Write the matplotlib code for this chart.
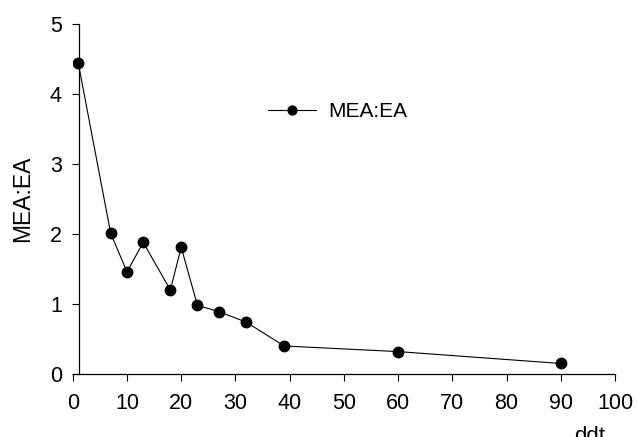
import matplotlib
matplotlib.use("Agg")
import matplotlib.pyplot as plt

ddt = [1, 7, 10, 13, 18, 20, 23, 27, 32, 39, 60, 90]
mea_ea = [4.45, 2.01, 1.46, 1.88, 1.20, 1.81, 0.98, 0.89, 0.74, 0.40, 0.32, 0.15]
x_ticks = [0, 10, 20, 30, 40, 50, 60, 70, 80, 90, 100]
y_ticks = [0, 1, 2, 3, 4, 5]

plt.rcParams['font.family'] = ['Liberation Sans', 'DejaVu Sans']

fig = plt.figure(figsize=(6.38, 4.37), dpi=100)
ax = fig.add_axes([0.114, 0.1442, 0.85, 0.8008])

ax.plot(ddt, mea_ea, color='black', linewidth=0.8, marker='o', markersize=7.5,
        markerfacecolor='black', markeredgecolor='black', label='MEA:EA')

ax.set_xlim(0, 100)
ax.set_ylim(0, 5)
ax.set_xticks(x_ticks)
ax.set_yticks(y_ticks)

for s in ['top', 'right']:
    ax.spines[s].set_visible(False)
ax.spines['left'].set_position(('data', 1.2))
ax.spines['left'].set_linewidth(0.9)
ax.spines['bottom'].set_linewidth(0.9)

ax.tick_params(axis='x', direction='out', length=5, width=0.8, pad=9, labelsize=15.5)
ax.tick_params(axis='y', direction='out', length=5, width=0.8, pad=7.5, labelsize=15.5)

ax.set_ylabel('MEA:EA', fontsize=16.5)
ax.yaxis.set_label_coords(-0.072, 0.5)
ax.set_xlabel('ddt', fontsize=16)
ax.xaxis.set_label_coords(0.954, -0.148)

leg = ax.legend(loc='center left', bbox_to_anchor=(0.42, 0.744),
                bbox_transform=fig.transFigure, frameon=False, fontsize=15,
                handlelength=2.3, handletextpad=0.6, borderpad=0, borderaxespad=0,
                markerscale=0.85)

fig.savefig('out.png', dpi=100)
